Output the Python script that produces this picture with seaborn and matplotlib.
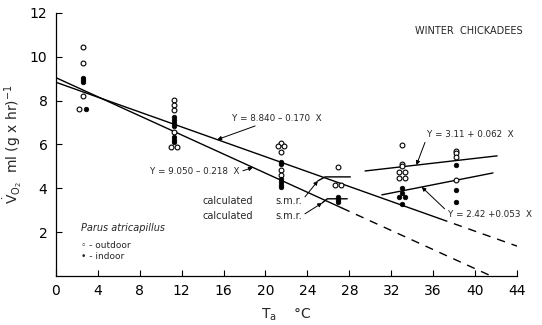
import matplotlib
matplotlib.use("Agg")
import matplotlib.pyplot as plt
import seaborn as sns
import pandas as pd
import numpy as np

# ---- data ----
# outdoor (open circles)
out_x = [2.6, 2.6, 2.6, 2.2,
         11.3, 11.3, 11.3, 11.3, 11.0, 11.6,
         21.5, 21.2, 21.8, 21.5, 21.5, 21.5,
         26.9, 26.6, 27.2,
         33.0, 33.0, 33.0, 32.7, 33.3, 32.7, 33.3,
         38.2, 38.2, 38.2, 38.2]
out_y = [10.46, 9.73, 8.2, 7.6,
         8.02, 7.8, 7.58, 6.59, 5.9, 5.9,
         6.06, 5.94, 5.94, 5.65, 4.84, 4.61,
         4.98, 4.15, 4.15,
         5.96, 5.12, 5.0, 4.74, 4.74, 4.45, 4.45,
         5.72, 5.6, 5.43, 4.38]
# indoor (filled circles)
in_x = [2.6, 2.6, 2.6, 2.9,
        11.3, 11.3, 11.3, 11.3, 11.3, 11.3, 11.3,
        21.5, 21.5, 21.5, 21.5, 21.5, 21.5,
        26.9, 26.9, 26.9,
        33.0, 33.0, 32.7, 33.3, 33.0,
        38.2, 38.2, 38.2]
in_y = [9.02, 8.93, 8.84, 7.6,
        7.25, 7.12, 7.0, 6.82, 6.33, 6.21, 6.09,
        5.2, 5.1, 4.42, 4.28, 4.16, 4.05,
        3.58, 3.47, 3.37,
        4.02, 3.8, 3.6, 3.6, 3.3,
        5.07, 3.9, 3.39]

# regression lines: intercept, slope
main_int = [8.840, 9.050]
main_slope = [-0.170, -0.218]
main_solid_end = [36.6, 27.3]
main_dash_end = [44.0, 9.050 / 0.218]
# right-hand (warm) lines as drawn: start/end x and y
warm_x = [[29.5, 42.1], [31.1, 41.7]]
warm_y = [[4.79, 5.48], [3.70, 4.70]]
# s.m.r. brackets
smr_x = [[25.0, 25.7, 28.1], [25.4, 25.9, 27.8]]
smr_y = [[4.34, 4.52, 4.52], [3.33, 3.52, 3.52]]

x_ticks = [0, 4, 8, 12, 16, 20, 24, 28, 32, 36, 40, 44]
y_ticks = [2, 4, 6, 8, 10, 12]
y_ticklabels = ["2", "4", "6", "8", "10", "12"]

# ---- figure ----
sns.set_theme(style="ticks")
plt.rcParams['font.family'] = ['DejaVu Sans']
fig = plt.figure(figsize=(5.42, 3.25), dpi=100)
ax = fig.add_axes([0.103, 0.151, 0.851, 0.809])

pts_out = pd.DataFrame({"x": out_x, "y": out_y})
pts_in = pd.DataFrame({"x": in_x, "y": in_y})
sns.scatterplot(data=pts_out, x="x", y="y", ax=ax, marker="o", s=12,
                facecolor="white", edgecolor="black", linewidth=0.8, zorder=4)
sns.scatterplot(data=pts_in, x="x", y="y", ax=ax, marker="o", s=11,
                color="black", edgecolor="black", linewidth=0.5, zorder=4)

for b, m, se, de in zip(main_int, main_slope, main_solid_end, main_dash_end):
    xs = [0.0, se]
    d = pd.DataFrame({"x": xs, "y": [b + m * v for v in xs]})
    sns.lineplot(data=d, x="x", y="y", ax=ax, color="black", lw=1.0,
                 sort=False, estimator=None)
    xd = [se, de]
    d2 = pd.DataFrame({"x": xd, "y": [b + m * v for v in xd]})
    sns.lineplot(data=d2, x="x", y="y", ax=ax, color="black", lw=1.0,
                 sort=False, estimator=None, linestyle=(0, (6, 5)))

for xs, ys in zip(warm_x, warm_y):
    sns.lineplot(x=xs, y=ys, ax=ax, color="black", lw=1.0, sort=False, estimator=None)
for xs, ys in zip(smr_x, smr_y):
    sns.lineplot(x=xs, y=ys, ax=ax, color="black", lw=1.0, sort=False, estimator=None)

ax.set_xlim(0, 44)
ax.set_ylim(0, 12)
ax.set_xticks(x_ticks)
ax.set_yticks(y_ticks)
ax.set_yticklabels(y_ticklabels)
ax.tick_params(direction="in", length=4, width=0.8, labelsize=10, colors="black", pad=6)
for s in ["top", "right"]:
    ax.spines[s].set_visible(False)
for s in ["left", "bottom"]:
    ax.spines[s].set_linewidth(0.9)
    ax.spines[s].set_color("black")

ax.set_xlabel(r"T$_{\mathregular{a}}$    °C", fontsize=10, labelpad=6)
ax.set_ylabel(r"$\dot{\mathregular{V}}_{\mathregular{O_2}}$  ml (g x hr)$^{\mathregular{-1}}$",
              fontsize=10, labelpad=4)

fs = 6.3
ax.text(34.3, 11.2, "WINTER  CHICKADEES", fontsize=7, va="center", ha="left")
arrow = dict(arrowstyle="-|>", color="black", lw=0.7, mutation_scale=6,
             shrinkA=0, shrinkB=0)
ax.annotate("Y = 8.840 \u2013 0.170  X", xy=(15.4, 8.840 - 0.170 * 15.4),
            xytext=(16.8, 7.2), fontsize=fs, va="center", ha="left",
            arrowprops=arrow)
ax.annotate("Y = 9.050 \u2013 0.218  X", xy=(18.8, 9.050 - 0.218 * 18.8),
            xytext=(9.0, 4.75), fontsize=fs, va="center", ha="left",
            arrowprops=dict(arrow, relpos=(1.0, 0.5)))
ax.annotate("Y = 3.11 + 0.062  X", xy=(34.4, 4.79 + 0.0552 * (34.4 - 29.5)),
            xytext=(35.4, 6.45), fontsize=fs, va="center", ha="left",
            arrowprops=dict(arrow, relpos=(0.0, 0.2)))
ax.annotate("Y = 2.42 +0.053  X", xy=(34.9, 3.70 + 0.0943 * (34.9 - 31.1)),
            xytext=(37.4, 2.8), fontsize=fs, va="center", ha="left",
            arrowprops=dict(arrow, relpos=(0.0, 0.8)))

ax.text(14.0, 3.42, "calculated", fontsize=7, va="center", ha="left")
ax.text(14.0, 2.74, "calculated", fontsize=7, va="center", ha="left")
ax.annotate("s.m.r.", xy=(25.0, 4.34), xytext=(20.9, 3.42), fontsize=7,
            va="center", ha="left", arrowprops=dict(arrow, relpos=(1.0, 0.5)))
ax.annotate("s.m.r.", xy=(25.4, 3.33), xytext=(20.9, 2.74), fontsize=7,
            va="center", ha="left", arrowprops=dict(arrow, relpos=(1.0, 0.5)))

ax.text(2.4, 2.2, "Parus atricapillus", fontsize=7, style="italic", va="center", ha="left")
ax.text(2.4, 1.37, "\u25e6 - outdoor", fontsize=6.5, va="center", ha="left")
ax.text(2.4, 0.87, "\u2022 - indoor", fontsize=6.5, va="center", ha="left")

fig.savefig("out.png", dpi=100)
